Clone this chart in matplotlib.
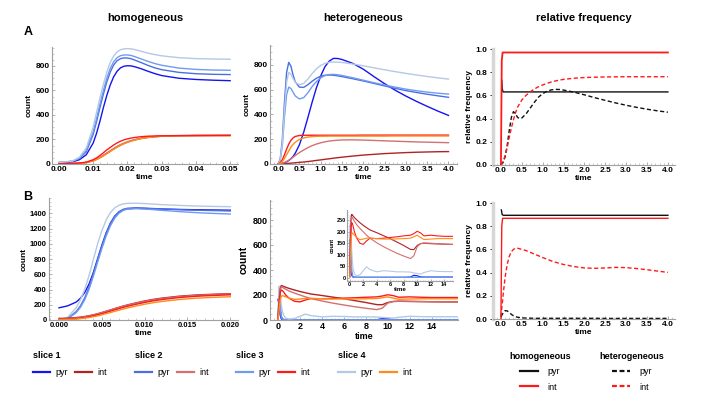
import numpy as np
import matplotlib
matplotlib.use("Agg")
import matplotlib.pyplot as plt
from matplotlib.lines import Line2D
from matplotlib.ticker import AutoMinorLocator

plt.rcParams['font.family'] = ['Liberation Sans', 'DejaVu Sans']
plt.rcParams['font.weight'] = 'bold'

# colours per slice
pyr_colors = ['#1414f0', '#4a6fe3', '#6f9bf0', '#b4c9e4']
int_colors = ['#b22222', '#d47070', '#ff1a1a', '#ff8c1a']
slice_names = ['slice 1', 'slice 2', 'slice 3', 'slice 4']

# ---- A: homogeneous counts (time 0..0.05)
t_a1 = [0, 0.004, 0.006, 0.008, 0.01, 0.011, 0.012, 0.013, 0.014, 0.015, 0.016, 0.017,
        0.018, 0.019, 0.02, 0.021, 0.022, 0.024, 0.026, 0.028, 0.03, 0.035, 0.04, 0.045, 0.05]
a1_pyr = [
    [10, 18, 35, 75, 170, 250, 350, 460, 560, 645, 712, 757, 785, 798, 802, 801, 795, 778, 757, 738, 722, 700, 690, 684, 680],
    [12, 22, 45, 100, 240, 345, 460, 570, 670, 750, 808, 843, 860, 866, 865, 860, 850, 828, 805, 785, 770, 748, 737, 732, 730],
    [12, 23, 48, 110, 260, 370, 490, 600, 700, 780, 835, 868, 884, 890, 890, 886, 878, 858, 838, 820, 806, 783, 772, 767, 765],
    [12, 25, 55, 130, 300, 420, 540, 650, 750, 830, 880, 915, 932, 940, 942, 940, 935, 920, 905, 893, 883, 868, 860, 857, 855],
]
a1_int = [
    [1, 3, 6, 12, 26, 38, 52, 69, 87, 105, 123, 140, 155, 168, 179, 188, 196, 209, 217, 223, 227, 231, 232, 233, 234],
    [1, 4, 7, 13, 28, 40, 55, 72, 90, 108, 126, 143, 158, 170, 181, 190, 198, 210, 218, 224, 227, 231, 232, 233, 233],
    [2, 5, 8, 15, 35, 50, 70, 92, 115, 135, 155, 172, 186, 197, 205, 211, 216, 223, 227, 229, 230, 232, 233, 233, 233],
    [0, 3, 6, 12, 25, 36, 50, 66, 84, 102, 120, 137, 152, 165, 176, 186, 194, 207, 216, 222, 226, 230, 232, 232, 232],
]

# ---- A: heterogeneous counts (time 0..4)
t_a2 = [0, 0.05, 0.1, 0.15, 0.2, 0.25, 0.3, 0.35, 0.4, 0.5, 0.6, 0.7, 0.8, 0.9, 1.0, 1.1,
        1.2, 1.3, 1.4, 1.5, 1.75, 2.0, 2.25, 2.5, 2.75, 3.0, 3.25, 3.5, 3.75, 4.0]
a2_pyr = [
    [0, 2, 5, 10, 18, 28, 42, 60, 85, 155, 255, 375, 500, 615, 710, 785, 830, 852, 851, 843, 812, 765, 705, 648, 595, 548, 505, 465, 427, 392],
    [0, 40, 200, 500, 740, 820, 790, 720, 665, 620, 618, 640, 668, 692, 708, 716, 718, 716, 711, 705, 688, 670, 650, 630, 610, 592, 577, 563, 550, 538],
    [0, 30, 150, 380, 560, 620, 610, 580, 550, 525, 535, 575, 625, 665, 695, 713, 722, 723, 720, 714, 696, 676, 656, 637, 620, 604, 591, 580, 571, 564],
    [0, 35, 170, 430, 660, 738, 725, 690, 660, 640, 650, 685, 730, 768, 795, 812, 820, 823, 822, 819, 807, 792, 776, 760, 745, 731, 718, 706, 695, 685],
]
a2_int = [
    [0, 1, 2, 3, 4, 5, 7, 8, 10, 13, 16, 20, 24, 29, 33, 38, 42, 47, 51, 55, 64, 72, 78, 84, 88, 92, 95, 97, 99, 100],
    [0, 2, 6, 12, 20, 30, 42, 55, 68, 92, 113, 132, 148, 161, 171, 179, 185, 189, 192, 194, 195, 193, 190, 187, 184, 181, 178, 176, 174, 172],
    [0, 10, 35, 75, 120, 160, 190, 210, 222, 230, 232, 232, 232, 232, 232, 232, 232, 232, 232, 232, 232, 233, 233, 233, 233, 233, 233, 233, 233, 233],
    [0, 5, 20, 45, 75, 105, 135, 158, 175, 198, 210, 217, 221, 223, 224, 224, 225, 225, 225, 225, 225, 225, 225, 225, 226, 226, 226, 226, 226, 226],
]

# ---- A: relative frequency
t_a3 = [0, 0.05, 0.1, 0.15, 0.2, 0.25, 0.3, 0.35, 0.4, 0.45, 0.5, 0.6, 0.7, 0.8, 0.9, 1.0,
        1.1, 1.2, 1.3, 1.4, 1.5, 1.75, 2.0, 2.25, 2.5, 2.75, 3.0, 3.25, 3.5, 3.75, 4.0]
a3_het_int = [0, 0.03, 0.08, 0.15, 0.24, 0.32, 0.39, 0.45, 0.50, 0.53, 0.56, 0.60, 0.63, 0.655, 0.675, 0.69,
              0.703, 0.715, 0.724, 0.732, 0.738, 0.748, 0.754, 0.757, 0.759, 0.76, 0.761, 0.761, 0.761, 0.761, 0.761]
a3_het_pyr = [0, 0.02, 0.07, 0.17, 0.30, 0.41, 0.46, 0.44, 0.41, 0.40, 0.405, 0.44, 0.49, 0.54, 0.585, 0.615,
              0.635, 0.647, 0.652, 0.651, 0.646, 0.628, 0.605, 0.58, 0.557, 0.535, 0.515, 0.497, 0.481, 0.467, 0.455]
t_a3_hom_pyr = [0.02, 0.03, 0.05, 4.0]
a3_hom_pyr = [0.73, 0.66, 0.63, 0.63]
t_a3_hom_int = [0, 0.02, 0.04, 4.0]
a3_hom_int = [0, 0.9, 0.97, 0.97]

# ---- B: homogeneous counts (time 0..0.02)
t_b1 = [0, 0.001, 0.002, 0.0025, 0.003, 0.0035, 0.004, 0.0045, 0.005, 0.0055, 0.006, 0.0065,
        0.007, 0.0075, 0.008, 0.009, 0.01, 0.011, 0.012, 0.014, 0.016, 0.018, 0.02]
b1_pyr = [
    [160, 185, 235, 285, 360, 470, 620, 800, 980, 1140, 1270, 1360, 1415, 1445, 1458, 1465, 1462, 1458, 1455, 1450, 1446, 1443, 1440],
    [0, 20, 110, 185, 290, 430, 600, 790, 970, 1135, 1265, 1360, 1420, 1452, 1466, 1472, 1468, 1462, 1456, 1447, 1440, 1435, 1430],
    [0, 15, 95, 165, 265, 400, 570, 755, 935, 1100, 1235, 1335, 1400, 1438, 1456, 1460, 1455, 1447, 1438, 1422, 1408, 1398, 1390],
    [0, 35, 160, 265, 400, 580, 790, 995, 1170, 1310, 1410, 1470, 1505, 1522, 1530, 1532, 1527, 1520, 1513, 1503, 1495, 1490, 1486],
]
b1_int = [
    [20, 24, 32, 38, 46, 56, 68, 82, 98, 115, 132, 150, 167, 183, 198, 225, 250, 270, 287, 312, 328, 338, 345],
    [12, 16, 25, 32, 41, 52, 65, 80, 96, 113, 130, 147, 163, 179, 194, 220, 244, 264, 281, 306, 322, 333, 340],
    [8, 11, 18, 24, 32, 42, 54, 68, 83, 99, 116, 133, 149, 165, 180, 206, 230, 251, 268, 294, 311, 322, 330],
    [4, 6, 12, 17, 24, 32, 42, 54, 68, 83, 98, 114, 129, 144, 158, 184, 207, 227, 243, 268, 286, 297, 305],
]

# ---- B: heterogeneous counts (time 0..16)
t_b2 = [0, 0.1, 0.2, 0.3, 0.4, 0.5, 0.7, 1.0, 1.5, 2.0, 2.5, 3.0, 4.0, 5.0, 6.0, 7.0, 8.0,
        9.0, 9.5, 10.0, 10.5, 11.0, 12.0, 13.0, 14.0, 15.0, 16.4]
b2_pyr = [
    [165, 120, 40, 10, 4, 2, 1, 1, 1, 1, 1, 1, 1, 1, 1, 1, 1, 2, 10, 8, 3, 2, 2, 2, 2, 2, 2],
    [0, 230, 120, 30, 12, 5, 2, 1, 1, 1, 1, 1, 1, 1, 1, 1, 1, 1, 1, 1, 1, 1, 1, 1, 1, 1, 1],
    [0, 200, 100, 25, 10, 3, 1, 1, 1, 1, 1, 1, 1, 1, 1, 1, 1, 1, 1, 1, 1, 1, 1, 1, 1, 1, 1],
    [0, 270, 200, 120, 70, 40, 15, 8, 12, 30, 47, 35, 25, 30, 28, 25, 25, 24, 20, 18, 15, 22, 30, 27, 26, 26, 26],
]
b2_int = [
    [20, 150, 250, 276, 273, 269, 262, 253, 240, 228, 218, 208, 196, 183, 170, 155, 140, 123, 122, 140, 148, 150, 148, 147, 146, 145, 144],
    [15, 140, 235, 265, 262, 256, 246, 232, 215, 200, 185, 172, 152, 135, 120, 106, 94, 83, 95, 135, 148, 151, 150, 148, 146, 145, 144],
    [5, 120, 220, 240, 235, 225, 200, 175, 150, 145, 160, 172, 170, 172, 175, 178, 182, 185, 192, 202, 195, 182, 185, 182, 180, 180, 180],
    [3, 80, 160, 190, 195, 192, 185, 176, 165, 168, 172, 172, 170, 168, 168, 169, 170, 172, 178, 185, 175, 166, 168, 170, 170, 170, 170],
]

# ---- B: relative frequency
t_b3 = [0, 0.05, 0.1, 0.15, 0.2, 0.25, 0.3, 0.35, 0.4, 0.5, 0.6, 0.7, 0.8, 1.0, 1.25,
        1.5, 1.75, 2.0, 2.25, 2.5, 2.75, 3.0, 3.25, 3.5, 3.75, 4.0]
b3_het_int = [0.02, 0.2, 0.36, 0.47, 0.54, 0.58, 0.60, 0.61, 0.61, 0.60, 0.59, 0.575, 0.56, 0.53, 0.495,
              0.47, 0.452, 0.44, 0.437, 0.44, 0.445, 0.443, 0.435, 0.425, 0.413, 0.402]
b3_het_pyr = [0.02, 0.05, 0.072, 0.07, 0.055, 0.04, 0.028, 0.02, 0.015, 0.01, 0.008, 0.007, 0.006, 0.006, 0.006,
              0.006, 0.006, 0.006, 0.006, 0.005, 0.005, 0.005, 0.005, 0.005, 0.005, 0.005]
t_b3_hom_pyr = [0.01, 0.03, 0.06, 4.0]
b3_hom_pyr = [0.94, 0.9, 0.894, 0.894]
t_b3_hom_int = [0, 0.02, 0.04, 4.0]
b3_hom_int = [0, 0.8, 0.868, 0.868]

# tick values / labels
a1_xticks = [0, 0.01, 0.02, 0.03, 0.04, 0.05]
a1_xlabels = ['0.00', '0.01', '0.02', '0.03', '0.04', '0.05']
rel_xticks = [0, 0.5, 1.0, 1.5, 2.0, 2.5, 3.0, 3.5, 4.0]
rel_xlabels = ['0.0', '0.5', '1.0', '1.5', '2.0', '2.5', '3.0', '3.5', '4.0']
rel_yticks = [0, 0.2, 0.4, 0.6, 0.8, 1.0]
rel_ylabels = ['0.0', '0.2', '0.4', '0.6', '0.8', '1.0']
b1_xticks = [0, 0.005, 0.01, 0.015, 0.02]
b1_xlabels = ['0.000', '0.005', '0.010', '0.015', '0.020']
b2_xticks = [0, 2, 4, 6, 8, 10, 12, 14]

W, H = 713, 399
fig = plt.figure(figsize=(W / 100, H / 100), dpi=100)


def px_axes(left, top, right, bottom):
    return fig.add_axes([left / W, 1 - bottom / H, (right - left) / W, (bottom - top) / H])


def style(ax, size=6, rel=False):
    for s in ['top', 'right']:
        ax.spines[s].set_visible(False)
    ax.spines['bottom'].set_color('#a0a0a0')
    ax.spines['bottom'].set_linewidth(0.8)
    if rel:
        ax.spines['left'].set_color('#d6d6d6')
        ax.spines['left'].set_linewidth(2.5)
        ax.tick_params(axis='y', length=0, pad=3)
    else:
        ax.spines['left'].set_color('#a0a0a0')
        ax.spines['left'].set_linewidth(0.8)
        ax.yaxis.set_minor_locator(AutoMinorLocator(4))
        ax.tick_params(axis='y', which='both', direction='in', color='#a0a0a0')
    ax.xaxis.set_minor_locator(AutoMinorLocator(5))
    ax.tick_params(which='major', length=2.5, width=0.6, labelsize=size, pad=1.5)
    ax.tick_params(which='minor', length=1.3, width=0.4)
    ax.tick_params(axis='x', which='both', direction='in', color='#a0a0a0')
    for lab in ax.get_xticklabels() + ax.get_yticklabels():
        lab.set_fontweight('bold')


lw = 1.0

# A1
ax = px_axes(52, 47, 238, 164)
for i in range(4):
    ax.plot(t_a1, a1_pyr[i], color=pyr_colors[i], lw=lw)
for i in [0, 1, 3, 2]:
    ax.plot(t_a1, a1_int[i], color=int_colors[i], lw=lw)
ax.set_xlim(-0.002, 0.0523)
ax.set_ylim(0, 955)
ax.set_xticks(a1_xticks)
ax.set_xticklabels(a1_xlabels)
ax.set_yticks([0, 200, 400, 600, 800])
style(ax)
ax.set_xlabel('time', fontsize=6, fontweight='bold', labelpad=1)
ax.set_ylabel('count', fontsize=6, fontweight='bold', labelpad=2)
axA1 = ax

# A2
ax = px_axes(270, 45, 457, 164)
for i in range(4):
    ax.plot(t_a2, a2_pyr[i], color=pyr_colors[i], lw=lw)
for i in range(4):
    ax.plot(t_a2, a2_int[i], color=int_colors[i], lw=lw)
ax.set_xlim(-0.19, 4.2)
ax.set_ylim(0, 960)
ax.set_xticks(rel_xticks)
ax.set_xticklabels(rel_xlabels)
ax.set_yticks([0, 200, 400, 600, 800])
style(ax)
ax.set_xlabel('time', fontsize=6, fontweight='bold', labelpad=1)
ax.set_ylabel('count', fontsize=6, fontweight='bold', labelpad=2)
axA2 = ax

# A3
ax = px_axes(493, 49, 675, 165)
ax.plot(t_a3_hom_pyr, a3_hom_pyr, color='#111111', lw=lw)
ax.plot(t_a3_hom_int, a3_hom_int, color='#ff1a1a', lw=1.3)
ax.plot(t_a3, a3_het_pyr, color='#111111', lw=lw, ls=(0, (3, 1.8)))
ax.plot(t_a3, a3_het_int, color='#ff1a1a', lw=lw, ls=(0, (3, 1.8)))
ax.set_xlim(-0.19, 4.17)
ax.set_ylim(0, 1.0)
ax.set_xticks(rel_xticks)
ax.set_xticklabels(rel_xlabels)
ax.set_yticks(rel_yticks)
ax.set_yticklabels(rel_ylabels)
style(ax, rel=True)
ax.set_xlabel('time', fontsize=6, fontweight='bold', labelpad=1)
ax.set_ylabel('relative frequency', fontsize=6, fontweight='bold', labelpad=2)
axA3 = ax

# B1
ax = px_axes(49, 198, 238, 320)
for i in range(4):
    ax.plot(t_b1, b1_pyr[i], color=pyr_colors[i], lw=lw)
for i in range(4):
    ax.plot(t_b1, b1_int[i], color=int_colors[i], lw=lw)
ax.set_xlim(-0.00117, 0.0209)
ax.set_ylim(0, 1600)
ax.set_xticks(b1_xticks)
ax.set_xticklabels(b1_xlabels)
ax.set_yticks([0, 200, 400, 600, 800, 1000, 1200, 1400])
style(ax, size=5.5)
ax.set_xlabel('time', fontsize=6, fontweight='bold', labelpad=1)
ax.set_ylabel('count', fontsize=6, fontweight='bold', labelpad=2)

# B2
ax = px_axes(270, 200, 458, 320)
for i in range(4):
    ax.plot(t_b2, b2_pyr[i], color=pyr_colors[i], lw=lw)
for i in range(4):
    ax.plot(t_b2, b2_int[i], color=int_colors[i], lw=lw)
ax.set_xlim(-0.73, 16.4)
ax.set_ylim(0, 960)
ax.set_xticks(b2_xticks)
ax.set_yticks([0, 200, 400, 600, 800])
style(ax, size=6.5)
ax.set_xlabel('time', fontsize=6.5, fontweight='bold', labelpad=1)
ax.set_ylabel('count', fontsize=7.5, fontweight='bold', labelpad=3)

# inset
ax = px_axes(347, 210, 453, 281)
ax.patch.set_alpha(0)
for i in range(4):
    ax.plot(t_b2, b2_pyr[i], color=pyr_colors[i], lw=0.8)
for i in range(4):
    ax.plot(t_b2, b2_int[i], color=int_colors[i], lw=0.8)
ax.set_xlim(-0.4, 15.3)
ax.set_ylim(-15, 295)
ax.set_xticks(b2_xticks)
ax.set_yticks([0, 50, 100, 150, 200, 250])
style(ax, size=4)
ax.tick_params(which='major', length=1.5, pad=1)
ax.tick_params(which='minor', length=0.8)
ax.set_xlabel('time', fontsize=4.5, fontweight='bold', labelpad=0)
ax.set_ylabel('count', fontsize=4, fontweight='bold', labelpad=1)

# B3
ax = px_axes(493, 203, 675, 319)
ax.plot(t_b3_hom_pyr, b3_hom_pyr, color='#111111', lw=lw)
ax.plot(t_b3_hom_int, b3_hom_int, color='#ff1a1a', lw=lw)
ax.plot(t_b3, b3_het_pyr, color='#111111', lw=lw, ls=(0, (3, 1.8)))
ax.plot(t_b3, b3_het_int, color='#ff1a1a', lw=lw, ls=(0, (3, 1.8)))
ax.set_xlim(-0.19, 4.17)
ax.set_ylim(0, 1.0)
ax.set_xticks(rel_xticks)
ax.set_xticklabels(rel_xlabels)
ax.set_yticks(rel_yticks)
ax.set_yticklabels(rel_ylabels)
style(ax, rel=True)
ax.set_xlabel('time', fontsize=6, fontweight='bold', labelpad=1)
ax.set_ylabel('relative frequency', fontsize=6, fontweight='bold', labelpad=2)

# column titles and panel letters
for a, title in [(axA1, 'homogeneous'), (axA2, 'heterogeneous'), (axA3, 'relative frequency')]:
    pos = a.get_position()
    fig.text((pos.x0 + pos.x1) / 2, 1 - 18 / H, title, ha='center', va='center',
             fontsize=8, fontweight='bold')
fig.text(28 / W, 1 - 32 / H, 'A', ha='center', va='center', fontsize=9, fontweight='bold')
fig.text(28 / W, 1 - 197 / H, 'B', ha='center', va='center', fontsize=9, fontweight='bold')

# slice legends
slice_x = [33, 135, 236, 338]
for i in range(4):
    handles = [Line2D([], [], color=pyr_colors[i], lw=1.6),
               Line2D([], [], color=int_colors[i], lw=1.6)]
    fig.legend(handles, ['pyr', 'int'], ncol=2, loc='upper left',
               bbox_to_anchor=(slice_x[i] / W, 1 - 351 / H), frameon=False,
               title=slice_names[i], alignment='left',
               title_fontproperties={'weight': 'bold', 'size': 6.5},
               prop={'weight': 'normal', 'size': 6.5},
               borderpad=0, borderaxespad=0, handlelength=1.9, handletextpad=0.55,
               columnspacing=0.8, labelspacing=0.9)

# model legends
for x0, name, ls in [(540, 'homogeneous', '-'), (632, 'heterogeneous', (0, (2.2, 1.2)))]:
    handles = [Line2D([], [], color='#111111', lw=1.6, ls=ls),
               Line2D([], [], color='#ff1a1a', lw=1.6, ls=ls)]
    leg = fig.legend(handles, ['pyr', 'int'], loc='upper center',
                     bbox_to_anchor=(x0 / W, 1 - 352 / H), frameon=False,
                     title=name, alignment='center',
                     title_fontproperties={'weight': 'bold', 'size': 6.5},
                     prop={'weight': 'normal', 'size': 6.5},
                     borderpad=0, borderaxespad=0, handlelength=2.0, handletextpad=1.1,
                     labelspacing=0.7)

fig.savefig('out.png', dpi=100)
